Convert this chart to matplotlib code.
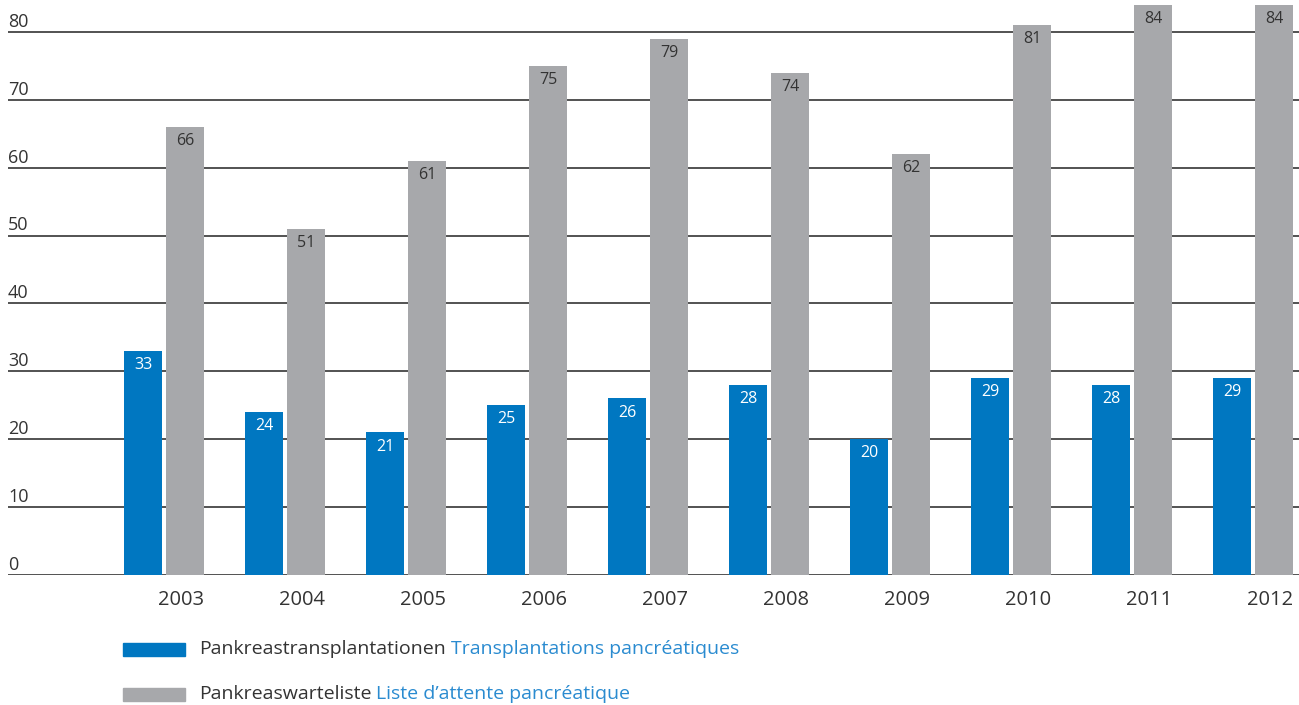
import matplotlib
matplotlib.use("Agg")
import matplotlib.pyplot as plt
from matplotlib.patches import Rectangle
import numpy as np

plt.rcParams['font.family'] = ['Open Sans', 'DejaVu Sans']

years = ['2003', '2004', '2005', '2006', '2007', '2008', '2009', '2010', '2011', '2012']
transplantationen = [33, 24, 21, 25, 26, 28, 20, 29, 28, 29]
warteliste = [66, 51, 61, 75, 79, 74, 62, 81, 84, 84]
yticks = [0, 10, 20, 30, 40, 50, 60, 70, 80]

legend_de = ['Pankreastransplantationen', 'Pankreaswarteliste']
legend_fr = ['Transplantations pancréatiques', 'Liste d\u2019attente pancréatique']

BLUE = '#0077c1'
GREY = '#a7a8ab'
TXT = '#333333'
LBLUE = '#2a8bd0'

W, H = 1299, 705
fig = plt.figure(figsize=(W / 100, H / 100), dpi=100)
# axes: x from 8px to right edge, y=0 at 575px, top at 0px
ax = fig.add_axes([8 / W, 1 - 575 / H, 1 - 8 / W, 575 / H])
for s in ax.spines.values():
    s.set_visible(False)
ax.set_xticks([])
ax.set_yticks([])

x = np.arange(len(years))
step = 121.0
bw = 38 / step
off = 21 / step
ax.set_xlim((8 - 164) / step, (1299 - 164) / step)
ax.set_ylim(0, 575 / 6.79)

for v in yticks:
    ax.axhline(v, color='#444444', lw=1.3, zorder=1)
    ax.text(0.0, v + 0.75, str(v), transform=ax.get_yaxis_transform(),
            ha='left', va='baseline', fontsize=13, color=TXT)

ax.bar(x - off, transplantationen, bw, color=BLUE, zorder=2)
ax.bar(x + off, warteliste, bw, color=GREY, zorder=2)

for xi, v in zip(x, transplantationen):
    ax.text(xi - off, v - 0.9, str(v), ha='center', va='top', fontsize=11.5, color='white', zorder=3)
for xi, v in zip(x, warteliste):
    ax.text(xi + off, v - 0.9, str(v), ha='center', va='top', fontsize=11.5, color=TXT, zorder=3)

for xi, yr in zip(x, years):
    ax.text(xi + off + bw / 2, -2.2, yr, ha='right', va='top', fontsize=14.5, color=TXT, clip_on=False)

# legend
colors = [BLUE, GREY]
ys = [649, 694]
fig.canvas.draw()
r = fig.canvas.get_renderer()
for c, yy, de, fr in zip(colors, ys, legend_de, legend_fr):
    fig.add_artist(Rectangle((123 / W, 1 - (yy + 7) / H), 62 / W, 13 / H,
                             transform=fig.transFigure, color=c))
    t = fig.text(199 / W, 1 - yy / H, de, ha='left', va='center', fontsize=14, color=TXT)
    bb = t.get_window_extent(renderer=r)
    fig.text((bb.x1 + 5) / W, 1 - yy / H, fr, ha='left', va='center', fontsize=14, color=LBLUE)

fig.savefig('out.png', dpi=100)
